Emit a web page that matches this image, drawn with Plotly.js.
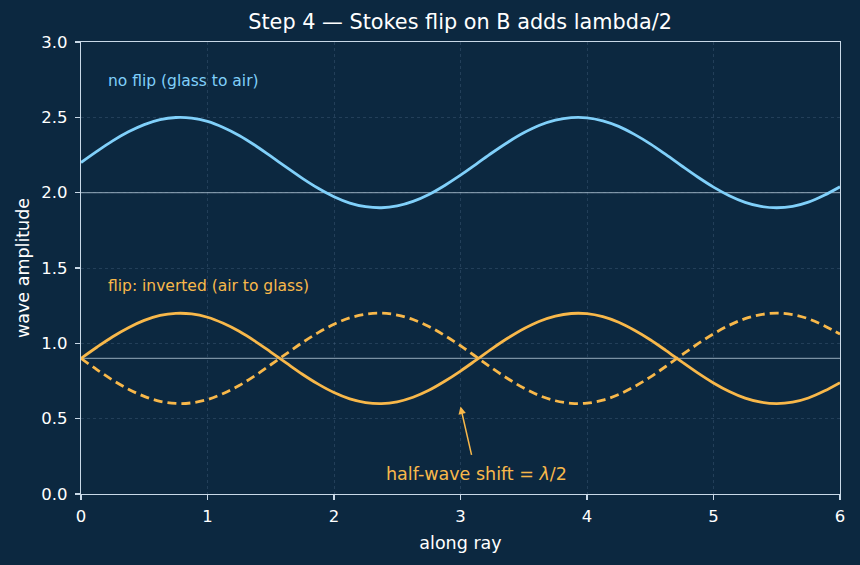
<!DOCTYPE html>
<html><head><meta charset="utf-8">
<script src="https://cdn.plot.ly/plotly-3.0.1.min.js"></script>
<style>html,body{margin:0;padding:0;background:#0c2840;}</style>
</head><body><div id="chart" style="width:860px;height:565px;"></div>
<script>
const xs = [0,0.125,0.25,0.375,0.5,0.625,0.75,0.875,1,1.125,1.25,1.375,1.5,1.625,1.75,1.875,2,2.125,2.25,2.375,2.5,2.625,2.75,2.875,3,3.125,3.25,3.375,3.5,3.625,3.75,3.875,4,4.125,4.25,4.375,4.5,4.625,4.75,4.875,5,5.125,5.25,5.375,5.5,5.625,5.75,5.875,6];
const noFlip = [2.200,2.274,2.344,2.404,2.452,2.485,2.499,2.495,2.473,2.433,2.380,2.315,2.242,2.168,2.095,2.029,1.973,1.931,1.907,1.900,1.912,1.942,1.988,2.048,2.116,2.190,2.265,2.335,2.397,2.447,2.481,2.498,2.497,2.477,2.440,2.387,2.324,2.252,2.177,2.104,2.037,1.980,1.936,1.909,1.900,1.909,1.937,1.983,2.039];
const flipSolid = [0.900,0.974,1.044,1.104,1.152,1.185,1.199,1.195,1.173,1.133,1.080,1.015,0.942,0.868,0.795,0.729,0.673,0.631,0.607,0.600,0.612,0.642,0.688,0.748,0.816,0.890,0.965,1.035,1.097,1.147,1.181,1.198,1.197,1.177,1.140,1.087,1.024,0.952,0.877,0.804,0.737,0.680,0.636,0.609,0.600,0.609,0.637,0.683,0.739];
const flipDashed = [0.900,0.826,0.756,0.696,0.648,0.615,0.601,0.605,0.627,0.667,0.720,0.785,0.858,0.932,1.005,1.071,1.127,1.169,1.193,1.200,1.188,1.158,1.112,1.052,0.984,0.910,0.835,0.765,0.703,0.653,0.619,0.602,0.603,0.623,0.660,0.713,0.776,0.848,0.923,0.996,1.063,1.120,1.164,1.191,1.200,1.191,1.163,1.117,1.061];
const baseNoFlip = 2.0;
const baseFlip = 0.9;
const xTicks = [0,1,2,3,4,5,6];
const yTicks = [0,0.5,1,1.5,2,2.5,3];
const yTickText = ["0.0","0.5","1.0","1.5","2.0","2.5","3.0"];

const blue = "#80d0fa";
const orange = "#f8b84a";
const baseCol = "rgba(170,190,205,0.7)";

const traces = [
  {x:[0,6], y:[baseNoFlip,baseNoFlip], mode:"lines", line:{color:baseCol,width:1.3}, hoverinfo:"skip"},
  {x:[0,6], y:[baseFlip,baseFlip], mode:"lines", line:{color:baseCol,width:1.3}, hoverinfo:"skip"},
  {x:xs, y:noFlip, mode:"lines", line:{color:blue,width:2.8,shape:"spline"}},
  {x:xs, y:flipSolid, mode:"lines", line:{color:orange,width:2.8,shape:"spline"}},
  {x:xs, y:flipDashed, mode:"lines", line:{color:orange,width:2.8,shape:"spline",dash:"9px,5px"}}
];

const axisCommon = {
  showline:true, mirror:true, linecolor:"#c9d9e8", linewidth:1.3,
  ticks:"outside", ticklen:5, tickwidth:1.3, tickcolor:"#c9d9e8",
  gridcolor:"rgba(110,140,170,0.3)", griddash:"dot", gridwidth:0.8,
  zeroline:false, tickfont:{color:"#ffffff",size:16.5}
};

const layout = {
  width:860, height:565,
  paper_bgcolor:"#0c2840", plot_bgcolor:"#0c2840",
  font:{family:"DejaVu Sans, sans-serif", color:"#ffffff"},
  margin:{l:81,r:20,t:42,b:71},
  showlegend:false,
  title:{text:"Step 4 — Stokes flip on B adds lambda/2", x:0.535, xanchor:"center", y:0.962, yanchor:"middle", font:{size:20.8,color:"#ffffff"}},
  xaxis:Object.assign({}, axisCommon, {range:[0,6], tickvals:xTicks, ticktext:xTicks.map(String), ticklabelstandoff:2,
    title:{text:"along ray", font:{size:17.5,color:"#ffffff"}, standoff:11}}),
  yaxis:Object.assign({}, axisCommon, {range:[0,3], tickvals:yTicks, ticktext:yTickText, ticklabelstandoff:4,
    title:{text:"wave amplitude", font:{size:17.5,color:"#ffffff"}, standoff:7}}),
  annotations:[
    {x:0.2, y:2.74, xref:"x", yref:"y", text:"no flip (glass to air)", showarrow:false, xanchor:"left", yanchor:"middle", font:{size:15.5,color:blue}},
    {x:0.2, y:1.38, xref:"x", yref:"y", text:"flip: inverted (air to glass)", showarrow:false, xanchor:"left", yanchor:"middle", font:{size:15.5,color:orange}},
    {x:3.0, y:0.58, ax:3.09, ay:0.25, axref:"x", ayref:"y", xref:"x", yref:"y", text:"", showarrow:true, arrowhead:2, arrowsize:1, arrowwidth:1.5, arrowcolor:orange, standoff:0},
    {x:3.125, y:0.13, xref:"x", yref:"y", text:"half-wave shift = <i>λ</i>/2", showarrow:false, xanchor:"center", yanchor:"middle", font:{size:17.5,color:orange}}
  ]
};

Plotly.newPlot("chart", traces, layout, {displayModeBar:false, staticPlot:true});
</script>
</body></html>
